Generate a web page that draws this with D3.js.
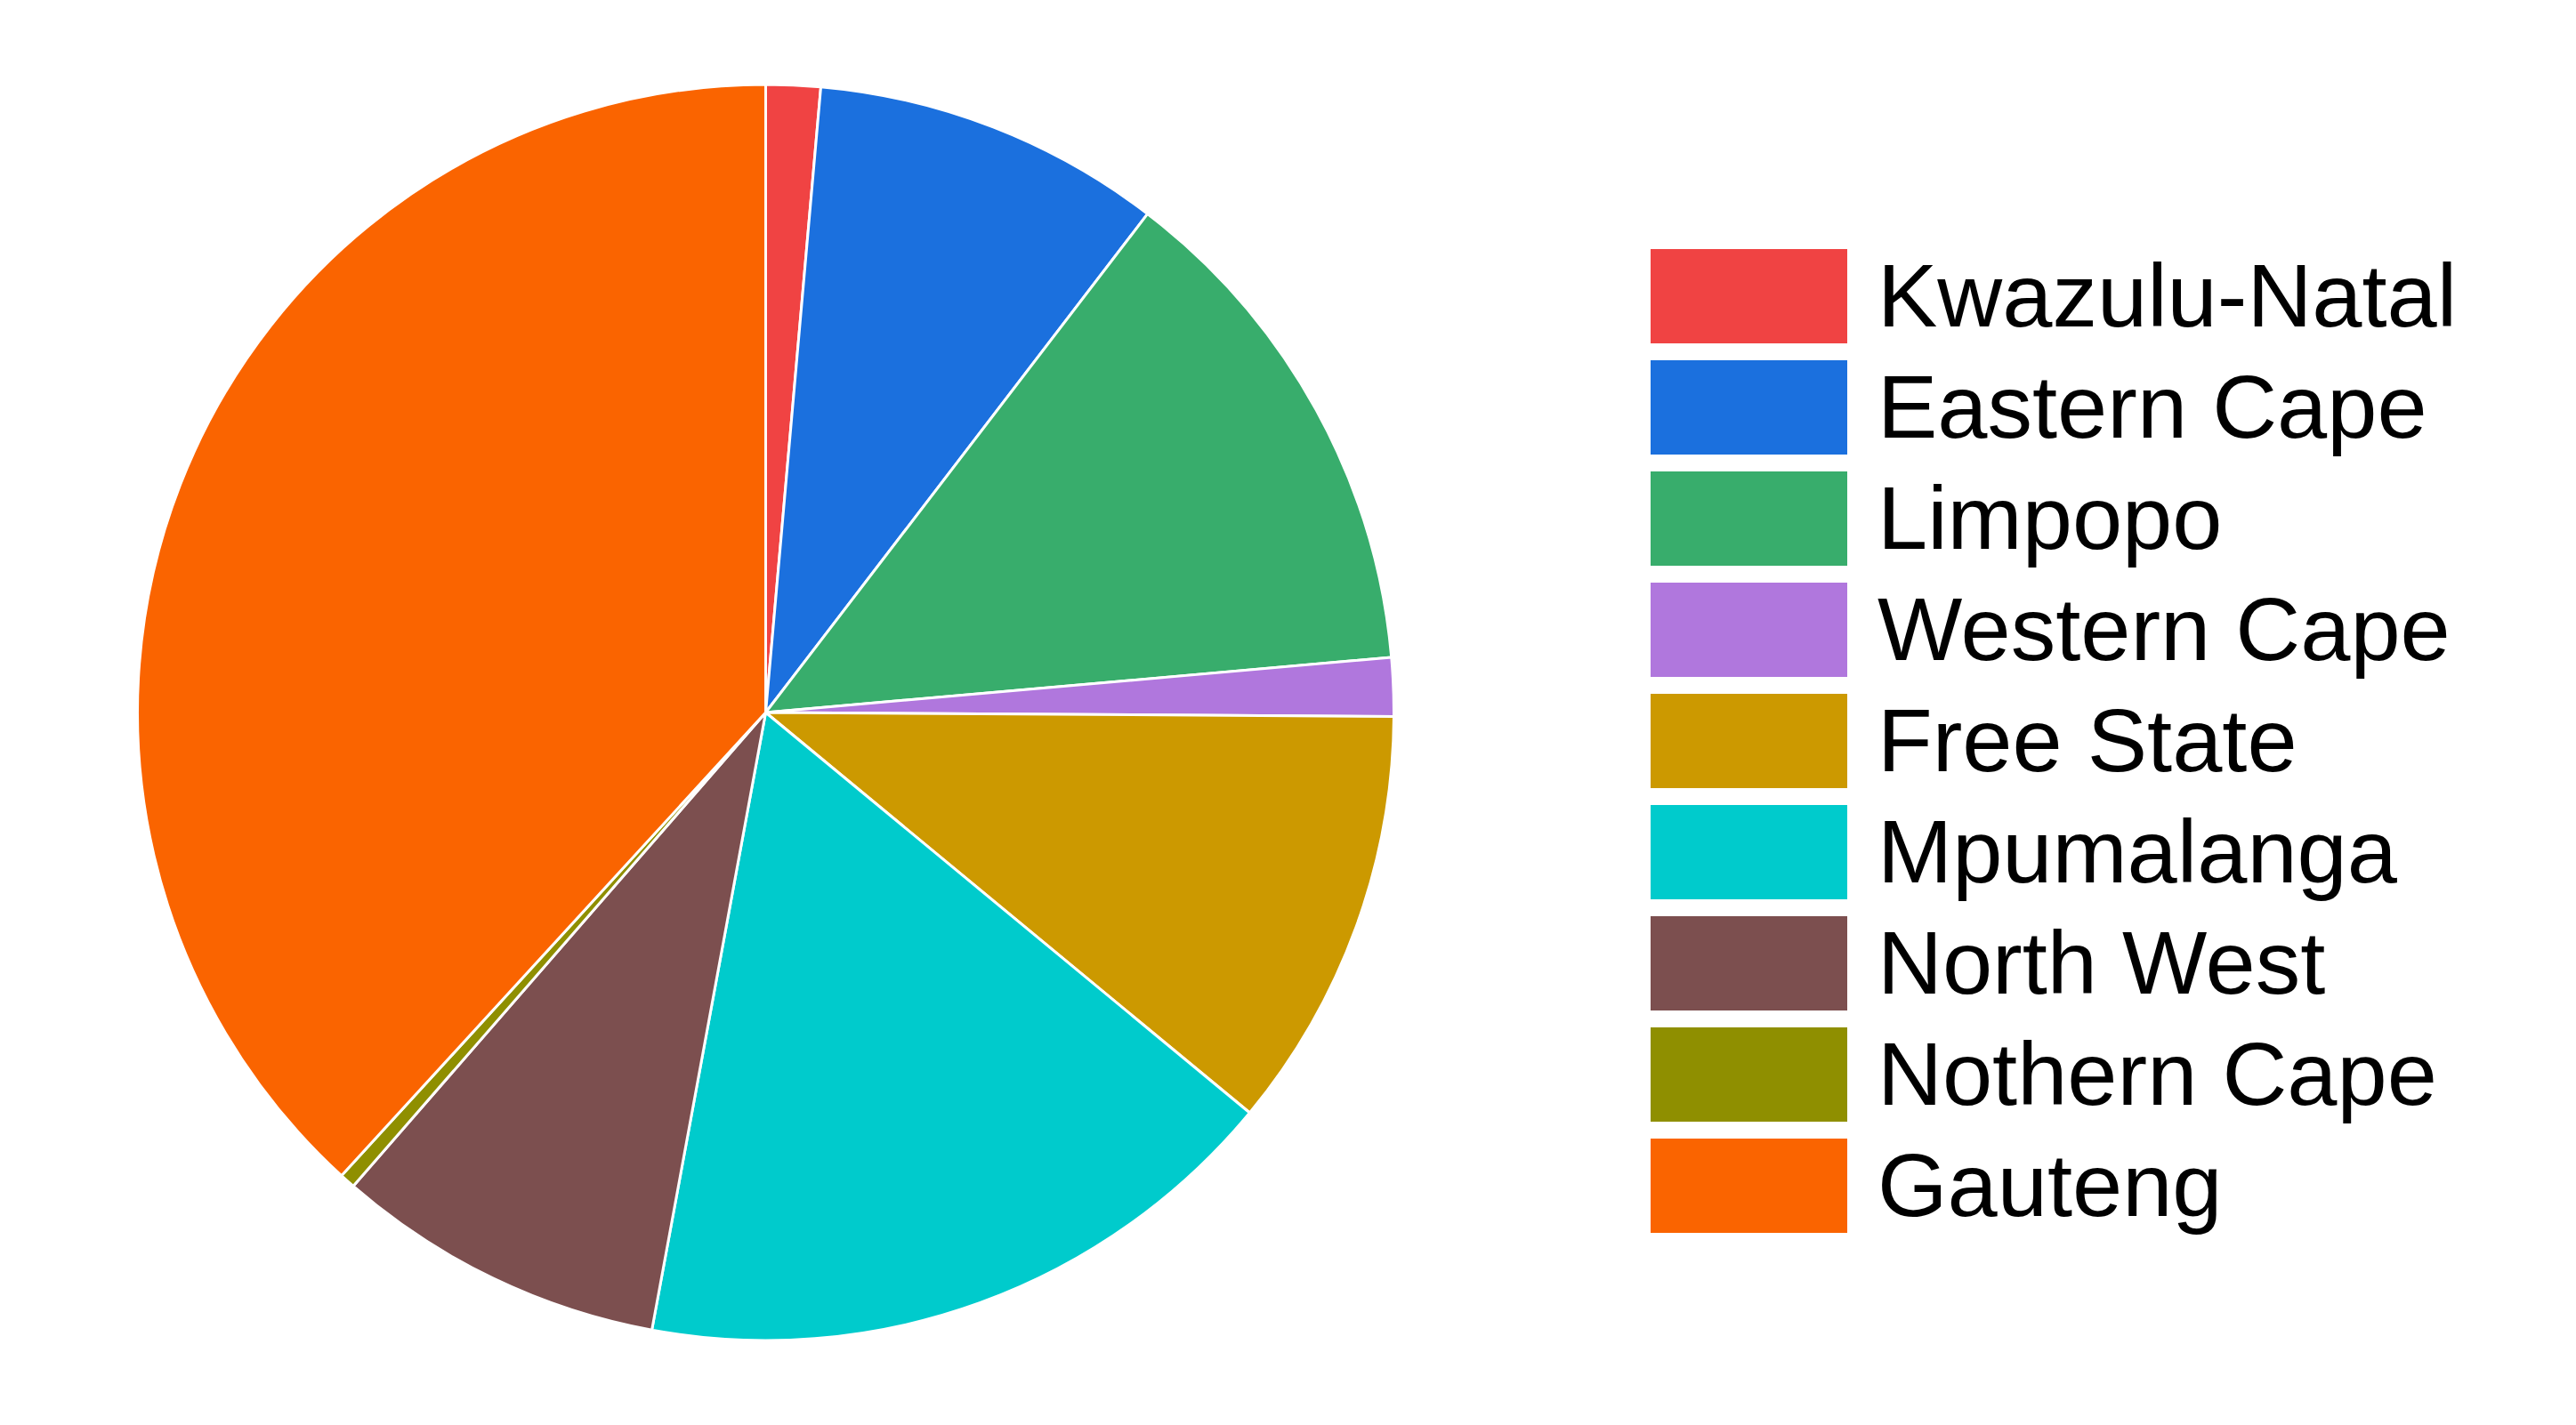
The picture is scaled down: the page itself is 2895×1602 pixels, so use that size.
<!DOCTYPE html>
<html>
<head>
<meta charset="utf-8" />
<title>Provinces pie</title>
<script src="https://cdnjs.cloudflare.com/ajax/libs/d3/7.8.5/d3.min.js"></script>
<style>
	body { margin: 0; padding: 0; background: #fff; }
	svg { display: block; }
</style>
</head>
<body>
<div id="chart"></div>
<script>
// share of each province (%)
var provinces = ["Kwazulu-Natal", "Eastern Cape", "Limpopo", "Western Cape", "Free State",
                 "Mpumalanga", "North West", "Nothern Cape", "Gauteng"];
var shares = [1.4, 9.0, 13.2, 1.5, 10.9, 16.9, 8.5, 0.4, 38.2];
var colours = ["#F04343", "#1B70DE", "#38AD6C", "#B077DD", "#CC9900",
               "#00CBCC", "#7C4F4F", "#8F8F00", "#FA6400"];

var W = 2895, H = 1602;
var cx = 860.5, cy = 801, R = 706;

var svg = d3.select("#chart").append("svg").attr("width", W).attr("height", H);

var data = provinces.map(function(p, i) { return {name: p, v: shares[i], col: colours[i]}; });

var pie = d3.pie().sort(null).value(function(d) { return d.v; })
    .startAngle(0).endAngle(2 * Math.PI);
var arc = d3.arc().innerRadius(0).outerRadius(R);

var g = svg.append("g").attr("transform", "translate(" + cx + "," + cy + ")");
g.selectAll("path")
    .data(pie(data))
  .enter().append("path")
    .attr("d", arc)
    .attr("fill", function(d) { return d.data.col; })
    .attr("stroke", "#fff")
    .attr("stroke-width", 3)
    .attr("stroke-linejoin", "round");

// legend
var color = d3.scaleOrdinal().domain(provinces).range(colours);
var ly = d3.scaleLinear().domain([0, provinces.length - 1]).range([280, 280 + 125 * (provinces.length - 1)]);

var leg = svg.append("g");
var item = leg.selectAll("g.item")
    .data(provinces)
  .enter().append("g").attr("class", "item");

item.append("rect")
    .attr("x", 1855)
    .attr("y", function(d, i) { return ly(i); })
    .attr("width", 221)
    .attr("height", 106)
    .attr("fill", function(d) { return color(d); });

item.append("text")
    .attr("x", 2110)
    .attr("y", function(d, i) { return ly(i) + 87; })
    .attr("font-family", "'Liberation Sans', Arial, sans-serif")
    .attr("font-size", 101)
    .attr("fill", "#000")
    .text(function(d) { return d; });
</script>
</body>
</html>
